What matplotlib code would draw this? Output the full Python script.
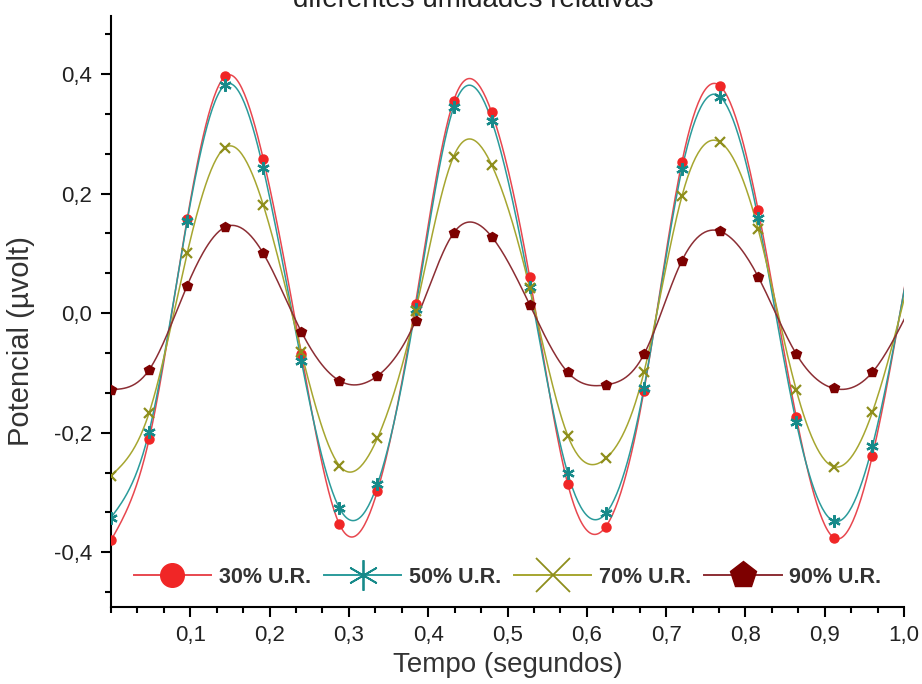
import numpy as np
import matplotlib
matplotlib.use('Agg')
import matplotlib.pyplot as plt
from matplotlib.lines import Line2D
from matplotlib.ticker import MultipleLocator, FuncFormatter

plt.rcParams['font.family'] = ['Liberation Sans', 'DejaVu Sans']

# tempo (s) - sampled every 0.048 s
tempo = [0.000, 0.048, 0.096, 0.144, 0.192, 0.240, 0.288, 0.336, 0.384, 0.432, 0.480,
         0.528, 0.576, 0.624, 0.672, 0.720, 0.768, 0.816, 0.864, 0.912, 0.960, 1.008]

ur30 = [-0.380, -0.211, 0.157, 0.396, 0.258, -0.068, -0.353, -0.297, 0.016, 0.355, 0.336,
        0.060, -0.286, -0.357, -0.130, 0.253, 0.380, 0.173, -0.173, -0.376, -0.239, 0.100]
ur50 = [-0.342, -0.198, 0.154, 0.382, 0.242, -0.080, -0.326, -0.286, 0.007, 0.344, 0.322,
        0.044, -0.268, -0.335, -0.126, 0.241, 0.362, 0.159, -0.182, -0.348, -0.223, 0.095]
ur70 = [-0.272, -0.167, 0.100, 0.277, 0.181, -0.065, -0.255, -0.209, 0.003, 0.262, 0.248,
        0.042, -0.205, -0.243, -0.099, 0.196, 0.286, 0.141, -0.128, -0.257, -0.166, 0.065]
ur90 = [-0.128, -0.095, 0.046, 0.144, 0.100, -0.031, -0.113, -0.105, -0.013, 0.134, 0.128,
        0.014, -0.099, -0.120, -0.069, 0.088, 0.137, 0.061, -0.068, -0.126, -0.099, 0.010]

labels = ['30% U.R.', '50% U.R.', '70% U.R.', '90% U.R.']


def spline(x, y, n=600):
    # natural cubic spline, like Origin's "spline" connect
    x = np.asarray(x, float)
    y = np.asarray(y, float)
    m = len(x)
    h = np.diff(x)
    A = np.zeros((m, m))
    r = np.zeros(m)
    A[0, 0] = A[-1, -1] = 1.0
    for i in range(1, m - 1):
        A[i, i - 1] = h[i - 1]
        A[i, i] = 2 * (h[i - 1] + h[i])
        A[i, i + 1] = h[i]
        r[i] = 3 * ((y[i + 1] - y[i]) / h[i] - (y[i] - y[i - 1]) / h[i - 1])
    c = np.linalg.solve(A, r)
    b = (y[1:] - y[:-1]) / h - h * (2 * c[:-1] + c[1:]) / 3
    d = (c[1:] - c[:-1]) / (3 * h)
    xs = np.linspace(x[0], x[-1], n)
    k = np.clip(np.searchsorted(x, xs) - 1, 0, m - 2)
    t = xs - x[k]
    return xs, y[k] + b[k] * t + c[k] * t ** 2 + d[k] * t ** 3


fig = plt.figure(figsize=(9.22, 6.84), dpi=100)
ax = fig.add_axes([0.1204, 0.113, 0.8601, 0.8636])

series = [
    (ur30, '#e8474f', '#f02626', 'o', 6.5, 1.0, 17, 1.0),
    (ur50, '#2b9b9b', '#178a8a', (6, 2, 0), 9, 1.6, 22, 1.3),
    (ur70, '#a6a630', '#8e8e1c', 'x', 7.5, 1.6, 24, 1.3),
    (ur90, '#8c2e34', '#7d0000', 'p', 7, 1.0, 20, 1.0),
]

# symbols only where the sample lies inside the x range
inside = [i for i, t in enumerate(tempo) if t <= 1.0]

handles = []
for (vals, lc, mc, mk, ms, mew, lms, lmew), lab in zip(series, labels):
    xs, ys = spline(tempo, vals)
    ax.plot(xs, ys, color=lc, lw=1.1, zorder=2)
    ax.plot(tempo, vals, ls='none', marker=mk, ms=ms, color=mc, mec=mc, mew=mew,
            markevery=inside, zorder=3)
    handles.append(Line2D([], [], color=lc, lw=1.4, marker=mk, ms=lms, mfc=mc, mec=mc, mew=lmew))

ax.set_xlim(0, 1.0)
ax.set_ylim(-0.491, 0.497)
ax.set_xticks(np.arange(0.1, 1.01, 0.1))
ax.set_yticks([-0.4, -0.2, 0.0, 0.2, 0.4])
ax.xaxis.set_minor_locator(MultipleLocator(1 / 30))
ax.yaxis.set_minor_locator(MultipleLocator(0.2 / 3))
fmt = FuncFormatter(lambda v, p: ('%.1f' % v).replace('.', ',').replace('-0,0', '0,0'))
ax.xaxis.set_major_formatter(fmt)
ax.yaxis.set_major_formatter(fmt)

for s in ['top', 'right']:
    ax.spines[s].set_visible(False)
for s in ['left', 'bottom']:
    ax.spines[s].set_linewidth(1.5)
ax.tick_params(which='major', direction='out', length=7.5, width=1.5, labelsize=16,
               labelcolor='#222222', pad=6)
ax.tick_params(which='minor', direction='out', length=4, width=1.5)

ax.set_xlabel('Tempo (segundos)', fontsize=20, color='#333333', labelpad=4)
ax.set_ylabel('Potencial (µvolt)', fontsize=21, color='#333333')
ax.yaxis.set_label_coords(-0.096, 0.45)

fig.text(0.513, 0.99, 'diferentes umidades relativas', ha='center', va='baseline',
         fontsize=20, color='#222222')

leg = ax.legend(handles, labels, loc='center', bbox_to_anchor=(0.5, 0.05), ncol=4,
                frameon=False, handlelength=3.6, handletextpad=0.35, columnspacing=0.6,
                prop={'weight': 'bold', 'size': 15.5})
for t in leg.get_texts():
    t.set_color('#333333')

fig.savefig('out.png', dpi=100)
